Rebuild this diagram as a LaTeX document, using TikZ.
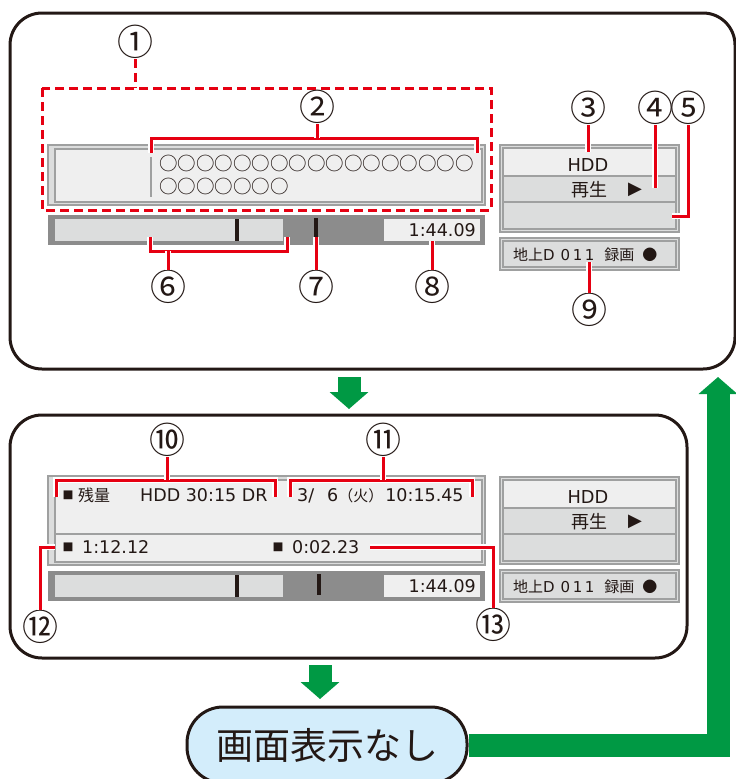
\documentclass[tikz,border=0pt]{standalone}
\usepackage{fontspec}
\newfontfamily\jp{Noto Sans CJK JP}
\newfontfamily\lat{DejaVu Sans}
\usetikzlibrary{arrows.meta}
\definecolor{ink}{HTML}{231815}
\definecolor{mark}{HTML}{E60012}
\definecolor{go}{HTML}{009944}
\definecolor{sky}{HTML}{D3EDFB}
\definecolor{paleg}{HTML}{EFEFEF}
\definecolor{midg}{HTML}{DCDDDD}
\definecolor{darkg}{HTML}{8C8C8C}
\definecolor{edgeg}{HTML}{9FA0A0}
\newcommand\fs[1]{\fontsize{#1}{#1}\selectfont}
\begin{document}
\begin{tikzpicture}[x=1pt,y=-1pt,
    panel/.style={draw=ink,line width=3pt,rounded corners=32pt,inner sep=0pt},
    num/.style={font=\jp\fs{36},text=ink,inner sep=0pt},
    leader/.style={draw=mark,line width=3pt,preaction={draw=white,line width=5.5pt}},
    dleader/.style={draw=mark,line width=3pt,dash pattern=on 9pt off 5pt},
    flow/.style={draw=go,line width=23pt,-{Triangle[width=38pt,length=17pt]}},
    offbtn/.style={draw=ink,line width=3pt,fill=sky,rounded corners=36pt,
      minimum width=280pt,minimum height=76pt,font=\jp\fs{37},text=ink},
    lbl/.style={text=ink,inner sep=0pt},
    frame/.style={draw=edgeg,line width=1.4pt},
  ]
  \useasboundingbox (0,0) rectangle (736,779);
  % the two screens
  \node[panel,minimum width=725pt,minimum height=356pt] (scrA) at (372.5,191) {};
  \node[panel,minimum width=677pt,minimum height=243pt] (scrB) at (348.5,536.5) {};
  % message box (top screen)
  \filldraw[frame,fill=midg] (48,145) rectangle (485,205);
  \filldraw[frame,fill=paleg] (55,149) rectangle (482,202);
  \draw[frame] (151,157) -- (151,197);
  \node[lbl,font=\jp\fs{18.5},anchor=west] (msgA) at (159,163) {○○○○○○○○○○○○○○○○○};
  \node[lbl,font=\jp\fs{18.5},anchor=west] (msgB) at (159,186) {○○○○○○○};
  % info box (bottom screen)
  \filldraw[frame,fill=midg] (48,476) rectangle (485,565);
  \filldraw[frame,fill=paleg] (55,480) rectangle (482,562);
  \draw[frame] (55,534) -- (482,534);
  \node[lbl,font=\jp\fs{11}] (sqA) at (68,495) {■};
  \node[lbl,font=\jp\fs{16}] (left) at (94,495) {残量};
  \node[lbl,font=\lat\fs{17.5},anchor=west] (hddleft) at (140,495) {HDD 30:15 DR};
  \node[lbl,anchor=base west] (date) at (297,501.5)
    {\lat\fs{17.5}3/\kern13pt 6{\jp\fs{15}（火）}\kern2pt 10:15.45};
  \node[lbl,font=\jp\fs{11}] (sqB) at (68,547) {■};
  \node[lbl,font=\lat\fs{17.5},anchor=west] (elapsed) at (82,547) {1:12.12};
  \node[lbl,font=\jp\fs{11}] (sqC) at (278,547) {■};
  \node[lbl,font=\lat\fs{17.5},anchor=west] (remain) at (292,547) {0:02.23};
  % progress bars
  \foreach \yy/\tx in {0/316,356/319}{
    \begin{scope}[shift={(0,\yy)}]
      \fill[darkg] (48,215) rectangle (485,245);
      \fill[midg] (55,219) rectangle (283,241);
      \fill[paleg] (384,219) rectangle (480,241);
      \draw[ink,line width=3.5pt] (237,219) -- (237,241);
      \draw[ink,line width=3.5pt] (\tx,218) -- (\tx,239);
      \node[lbl,font=\lat\fs{17.5},anchor=east] (time\yy) at (476,230) {1:44.09};
    \end{scope}
  }
  % status and channel boxes
  \foreach \sy in {0,332}{
    \begin{scope}[shift={(0,\sy)}]
      \filldraw[frame,fill=midg] (500,145) rectangle (679,232);
      \filldraw[frame,fill=paleg] (503,148) rectangle (676,176);
      \filldraw[frame,fill=midg] (503,176) rectangle (676,202);
      \filldraw[frame,fill=midg] (503,202) rectangle (676,229);
      \node[lbl,font=\lat\fs{17.8}] (hdd\sy) at (588,165) {HDD};
      \node[lbl,font=\jp\fs{18}] (play\sy) at (589,190) {再生};
      \node[lbl,font=\lat\fs{18}] (tri\sy) at (635,190) {▶};
      \filldraw[frame,fill=midg] (500,238) rectangle (679,270);
      \filldraw[frame,fill=midg] (503,241) rectangle (676,267);
      \node[lbl,anchor=base west] (ch\sy) at (513,260.5)
        {\jp\fs{15}地上{\lat\fs{15}D\kern6pt 0\kern2.5pt 1\kern2.5pt 1}\kern10pt 録画\kern8pt ●};
    \end{scope}
  }
  % numbers
  \node[num] (c1) at (135,42) {①};
  \node[num] (c2) at (317,107) {②};
  \node[num] (c3) at (588,108) {③};
  \node[num] (c4) at (655,108) {④};
  \node[num] (c5) at (688,108) {⑤};
  \node[num] (c6) at (168,287) {⑥};
  \node[num] (c7) at (316,287) {⑦};
  \node[num] (c8) at (432,287) {⑧};
  \node[num] (c9) at (589,310) {⑨};
  \node[num] (c10) at (167,440) {⑩};
  \node[num] (c11) at (383,440) {⑪};
  \node[num] (c12) at (40,627) {⑫};
  \node[num] (c13) at (493,625) {⑬};
  % leaders
  \draw[dleader] (42,88) rectangle (491,210);
  \draw[dleader] (c1) -- (135,88);
  \draw[leader] (151,153) |- (477,138) -- (477,153);
  \draw[leader] (c2) -- (317,138);
  \draw[leader] (c3) -- (588,152);
  \draw[leader] (c4) -- (655,188);
  \draw[leader] (c5) -- (688,216) -- (672,216);
  \draw[leader] (150,237) |- (287,251) -- (287,237);
  \draw[leader] (c6) -- (168,251);
  \draw[leader] (c7) -- (316,237);
  \draw[leader] (c8) -- (432,241);
  \draw[leader] (c9) -- (589,262);
  \draw[leader] (56,497) |- (275,480) -- (275,497);
  \draw[leader] (c10) -- (167,480);
  \draw[leader] (290,497) |- (472,480) -- (472,497);
  \draw[leader] (c11) -- (383,480);
  \draw[leader] (55,547) -| (c12);
  \draw[leader] (370,547) -| (c13);
  % flow
  \draw[flow] (349,377) -- (349,409);
  \draw[flow] (320,665) -- (320,699);
  \node[offbtn] (off) at (327,745) {画面表示なし};
  \draw[flow] (off.east) -| (718,377);
\end{tikzpicture}
\end{document}
